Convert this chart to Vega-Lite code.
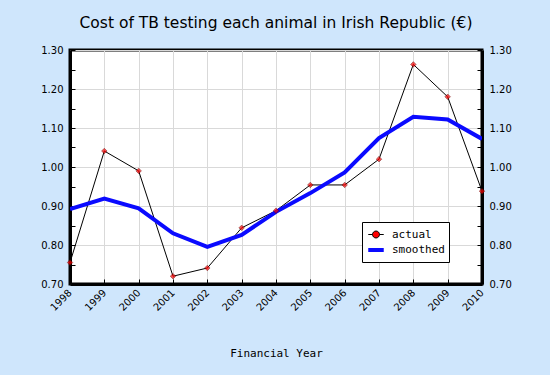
{
  "$schema": "https://vega.github.io/schema/vega-lite/v6.json",
  "width": 412,
  "height": 234,
  "autosize": "none",
  "padding": {"left": 70, "top": 50, "right": 68, "bottom": 91},
  "background": "#cfe6fc",
  "title": {
    "text": "Cost of TB testing each animal in Irish Republic (€)",
    "font": "DejaVu Sans",
    "fontSize": 15.5,
    "fontWeight": "normal",
    "color": "#000000",
    "offset": 14
  },
  "config": {
    "view": {"stroke": "#000000", "strokeWidth": 3, "fill": "#ffffff"},
    "axis": {
      "labelFont": "DejaVu Sans",
      "labelFontSize": 10,
      "labelColor": "#000000",
      "gridColor": "#d9d9d9",
      "gridWidth": 1,
      "domainColor": "#000000",
      "domainWidth": 3,
      "tickColor": "#000000",
      "tickSize": -5,
      "tickWidth": 1
    }
  },
  "data": {
    "values": [
      {"year": 1998, "series": "actual", "value": 0.755},
      {"year": 1999, "series": "actual", "value": 1.041},
      {"year": 2000, "series": "actual", "value": 0.99},
      {"year": 2001, "series": "actual", "value": 0.72},
      {"year": 2002, "series": "actual", "value": 0.741},
      {"year": 2003, "series": "actual", "value": 0.844},
      {"year": 2004, "series": "actual", "value": 0.888},
      {"year": 2005, "series": "actual", "value": 0.954},
      {"year": 2006, "series": "actual", "value": 0.954},
      {"year": 2007, "series": "actual", "value": 1.02},
      {"year": 2008, "series": "actual", "value": 1.263},
      {"year": 2009, "series": "actual", "value": 1.18},
      {"year": 2010, "series": "actual", "value": 0.938},
      {"year": 1998, "series": "smoothed", "value": 0.892},
      {"year": 1999, "series": "smoothed", "value": 0.919},
      {"year": 2000, "series": "smoothed", "value": 0.894},
      {"year": 2001, "series": "smoothed", "value": 0.83},
      {"year": 2002, "series": "smoothed", "value": 0.795},
      {"year": 2003, "series": "smoothed", "value": 0.826},
      {"year": 2004, "series": "smoothed", "value": 0.885},
      {"year": 2005, "series": "smoothed", "value": 0.933},
      {"year": 2006, "series": "smoothed", "value": 0.986},
      {"year": 2007, "series": "smoothed", "value": 1.074},
      {"year": 2008, "series": "smoothed", "value": 1.129},
      {"year": 2009, "series": "smoothed", "value": 1.122},
      {"year": 2010, "series": "smoothed", "value": 1.072}
    ]
  },
  "encoding": {
    "x": {
      "field": "year",
      "type": "quantitative",
      "scale": {"domain": [1998, 2010], "nice": false, "zero": false},
      "axis": {
        "values": [1998, 1999, 2000, 2001, 2002, 2003, 2004, 2005, 2006, 2007, 2008, 2009, 2010],
        "format": "d",
        "labelAngle": -45,
        "labelAlign": "right",
        "labelBaseline": "middle",
        "labelPadding": 12,
        "labelOverlap": false,
        "labelBound": false,
        "labelFlush": false,
        "title": "Financial Year",
        "titleFont": "DejaVu Sans Mono",
        "titleFontSize": 11,
        "titleFontWeight": "normal",
        "titleColor": "#000000",
        "titleY": 63,
        "grid": true
      }
    }
  },
  "resolve": {"axis": {"y": "independent"}},
  "layer": [
    {
      "mark": {"type": "line", "clip": true},
      "encoding": {
        "y": {
          "field": "value",
          "type": "quantitative",
          "scale": {"domain": [0.7, 1.3], "nice": false, "zero": false},
          "axis": {
            "orient": "left",
            "title": null,
            "values": [0.7, 0.75, 0.8, 0.85, 0.9, 0.95, 1.0, 1.05, 1.1, 1.15, 1.2, 1.25, 1.3],
            "labelExpr": "round(datum.value*100) % 10 == 0 ? format(datum.value, '.2f') : ''",
            "labelPadding": 12,
            "labelOverlap": false,
            "labelFlush": false,
            "grid": true,
            "gridOpacity": {"condition": {"test": "round(datum.value*100) % 10 == 0", "value": 1}, "value": 0}
          }
        },
        "color": {
          "field": "series",
          "type": "nominal",
          "scale": {"domain": ["actual", "smoothed"], "range": ["#000000", "#0a0aff"]},
          "legend": {
            "orient": "none",
            "legendX": 292,
            "legendY": 172,
            "title": null,
            "labelFont": "DejaVu Sans Mono",
            "labelFontSize": 11,
            "labelColor": "#000000",
            "labelOffset": 6,
            "fillColor": "#ffffff",
            "strokeColor": "#000000",
            "padding": 4,
            "symbolSize": 240,
            "rowPadding": 0,
            "encode": {
              "symbols": {
                "update": {
                  "shape": {"signal": "datum.value === 'actual' ? 'M-1,0L-0.45,0M0.45,0L1,0M-0.45,0A0.45,0.45,0,1,1,0.45,0A0.45,0.45,0,1,1,-0.45,0Z' : 'stroke'"},
                  "fill": {"signal": "datum.value === 'actual' ? '#ff0000' : 'transparent'"},
                  "stroke": {"signal": "datum.value === 'actual' ? '#000000' : '#0a0aff'"},
                  "strokeWidth": {"signal": "datum.value === 'actual' ? 1 : 3"}
                }
              }
            }
          }
        },
        "strokeWidth": {
          "field": "series",
          "type": "nominal",
          "scale": {"domain": ["actual", "smoothed"], "range": [1, 4]},
          "legend": null
        }
      }
    },
    {
      "transform": [{"filter": "datum.series === 'actual'"}],
      "mark": {"type": "point", "shape": "diamond", "filled": true, "fill": "#ff0000", "stroke": "#660000", "strokeWidth": 0.7, "size": 30},
      "encoding": {
        "y": {
          "field": "value",
          "type": "quantitative",
          "axis": {
            "orient": "right",
            "title": null,
            "values": [0.7, 0.75, 0.8, 0.85, 0.9, 0.95, 1.0, 1.05, 1.1, 1.15, 1.2, 1.25, 1.3],
            "labelExpr": "round(datum.value*100) % 10 == 0 ? format(datum.value, '.2f') : ''",
            "labelPadding": 12,
            "labelOverlap": false,
            "labelFlush": false,
            "grid": false
          }
        }
      }
    }
  ]
}
